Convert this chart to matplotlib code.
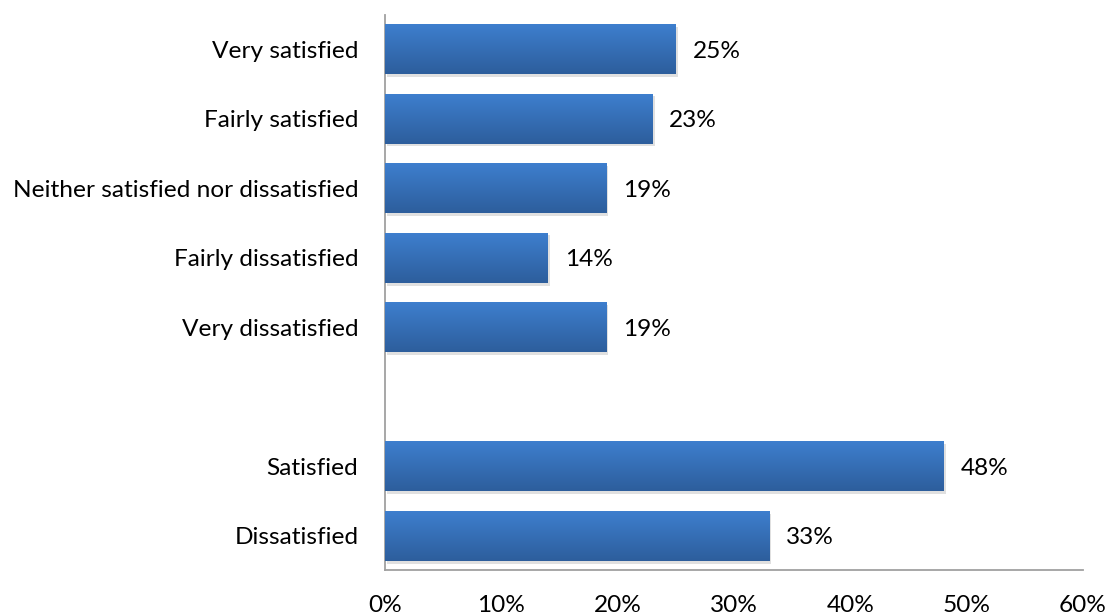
import matplotlib.pyplot as plt
import numpy as np
from matplotlib.colors import LinearSegmentedColormap
from matplotlib.ticker import FuncFormatter

categories = ['Very satisfied', 'Fairly satisfied', 'Neither satisfied nor dissatisfied',
              'Fairly dissatisfied', 'Very dissatisfied', '', 'Satisfied', 'Dissatisfied']
values = [25, 23, 19, 14, 19, None, 48, 33]
xticks = [0, 10, 20, 30, 40, 50, 60]

plt.rcParams['font.family'] = ['Lato', 'DejaVu Sans']
fs = 17.6

fig = plt.figure(figsize=(11.09, 6.14), dpi=100)
ax = fig.add_axes([0.347, 0.0717, 0.6296, 0.9039])

pos = [i for i, v in enumerate(values) if v is not None]
vals = [v for v in values if v is not None]

# shadow under the bars
ax.barh([p + 0.04 for p in pos], vals, height=0.72, left=0.2, color='#000000', alpha=0.12, zorder=1)
bars = ax.barh(pos, vals, height=0.72, color='#3a78c6', zorder=2)

cmap = LinearSegmentedColormap.from_list('g', ['#3e7fcf', '#2d5e9c'])
grad = np.linspace(0, 1, 100).reshape(-1, 1)
for b in bars:
    x0, y0, w, h = b.get_x(), b.get_y(), b.get_width(), b.get_height()
    im = ax.imshow(grad, cmap=cmap, aspect='auto', extent=(x0, x0 + w, y0 + h, y0), zorder=3)
    im.set_clip_path(b)

for p, v in zip(pos, vals):
    ax.text(v + 1.45, p + 0.03, f'{v}%', va='center', ha='left', fontsize=fs)

ax.set_xlim(0, 60)
ax.set_ylim(7.49, -0.49)
ax.set_yticks(range(len(categories)))
ax.set_yticklabels(categories, fontsize=fs)
ax.set_xticks(xticks)
ax.xaxis.set_major_formatter(FuncFormatter(lambda x, _: f'{x:.0f}%'))
ax.tick_params(axis='x', length=0, pad=18, labelsize=fs)
ax.tick_params(axis='y', length=0, pad=19)

for s in ['top', 'right']:
    ax.spines[s].set_visible(False)
for s in ['left', 'bottom']:
    ax.spines[s].set_color('#a0a0a0')
    ax.spines[s].set_linewidth(1.3)

plt.savefig('out.png', dpi=100)
